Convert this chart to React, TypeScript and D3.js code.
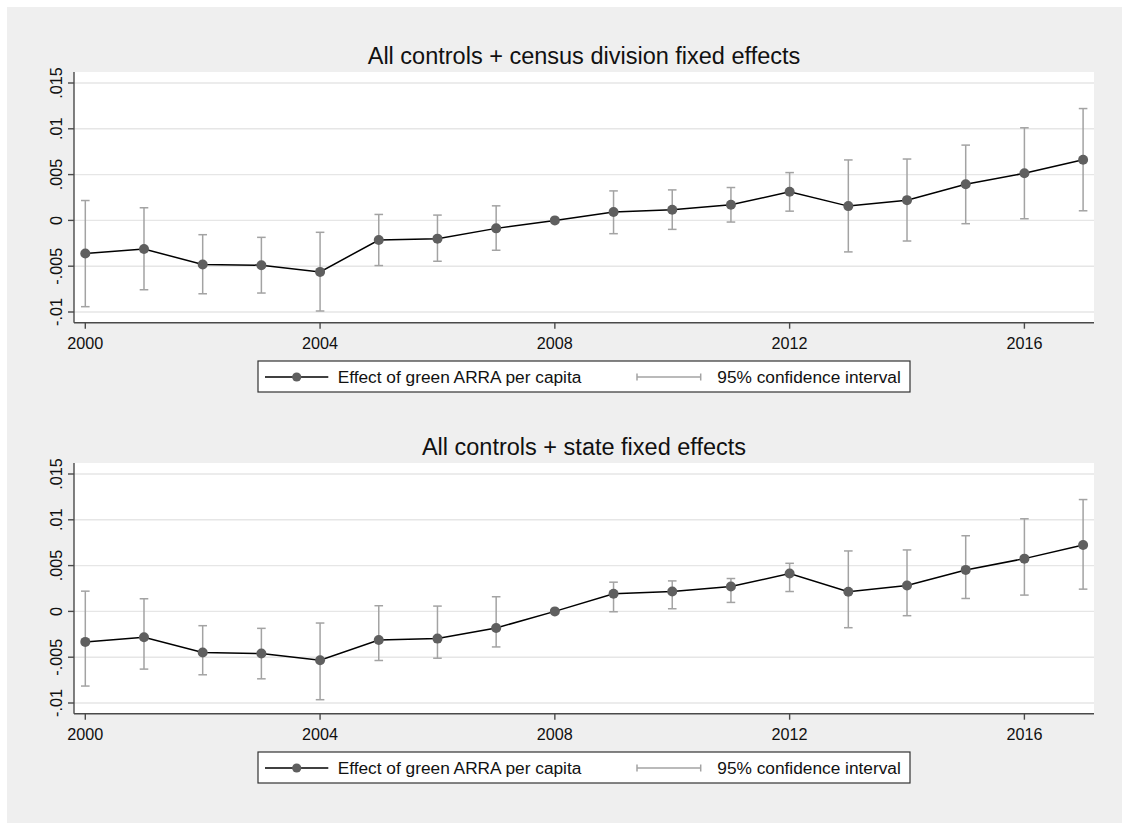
import React from "react";
import * as d3 from "d3";

// Event-study coefficients by year (2008 is the omitted reference year)
const years = [2000, 2001, 2002, 2003, 2004, 2005, 2006, 2007, 2008, 2009, 2010, 2011, 2012, 2013, 2014, 2015, 2016, 2017];

// Panel 1: census division fixed effects
const divisionEst = [-0.00362, -0.00312, -0.00482, -0.00489, -0.00562, -0.00214, -0.00199, -0.00087, 0, 0.00091, 0.00116, 0.0017, 0.00312, 0.00156, 0.00221, 0.00395, 0.00514, 0.00663];
const divisionLo = [-0.00942, -0.00757, -0.00801, -0.00793, -0.00989, -0.00493, -0.00446, -0.00326, null, -0.00145, -0.00098, -0.00018, 0.00101, -0.00344, -0.00225, -0.00036, 0.00018, 0.00105];
const divisionHi = [0.00217, 0.00138, -0.00156, -0.00185, -0.0013, 0.00065, 0.00058, 0.00159, null, 0.00322, 0.00333, 0.00359, 0.00522, 0.0066, 0.0067, 0.00822, 0.01011, 0.01221];

// Panel 2: state fixed effects
const stateEst = [-0.00333, -0.00283, -0.00449, -0.0046, -0.00533, -0.00312, -0.00297, -0.00181, 0, 0.00192, 0.00217, 0.00272, 0.00413, 0.00214, 0.00283, 0.00453, 0.00576, 0.00725];
const stateLo = [-0.00815, -0.0063, -0.00692, -0.00736, -0.00964, -0.00536, -0.00511, -0.00388, null, -0.00004, 0.00029, 0.00098, 0.00217, -0.00178, -0.00047, 0.00141, 0.00178, 0.00243];
const stateHi = [0.00221, 0.00138, -0.00156, -0.00185, -0.00127, 0.00062, 0.00058, 0.0016, null, 0.00319, 0.00333, 0.00359, 0.00525, 0.0066, 0.00671, 0.00826, 0.01011, 0.01221];

const xTicks = [2000, 2004, 2008, 2012, 2016];
const yTicks = [-0.01, -0.005, 0, 0.005, 0.01, 0.015];
const yTickLabels = ["-.01", "-.005", "0", ".005", ".01", ".015"];

const panelTitles = ["All controls + census division fixed effects", "All controls + state fixed effects"];
const legendLabels = ["Effect of green ARRA per capita", "95% confidence interval"];

const FONT = "'Liberation Sans', Arial, Helvetica, sans-serif";
const BG = "#efefef";
const GRID = "#e6e6e6";
const AXIS = "#4a4a4a";
const POINT = "#5f5f5f";
const CI = "#a3a3a3";

const W = 1122;
const H = 823;

type PanelProps = {
  offsetY: number;
  title: string;
  est: number[];
  lo: (number | null)[];
  hi: (number | null)[];
};

function Panel({ offsetY, title, est, lo, hi }: PanelProps) {
  const left = 74;
  const right = 1094;
  const top = 72;
  const bottom = 322.7;

  const x = d3.scaleLinear().domain([2000, 2016]).range([85.3, 1024.4]);
  const y = d3.scaleLinear().domain([-0.01, 0.015]).range([312, 83]);

  const pts = years.map((yr, i) => ({ yr, v: est[i], lo: lo[i], hi: hi[i] }));
  const line = d3
    .line<{ yr: number; v: number }>()
    .x((d) => x(d.yr))
    .y((d) => y(d.v));

  const cap = 4.3;

  // legend geometry
  const lgX0 = 258;
  const lgX1 = 910;
  const lgY0 = 361;
  const lgY1 = 392;
  const lgMid = (lgY0 + lgY1) / 2 + 0.5;

  return (
    <g transform={`translate(0,${offsetY})`}>
      <text
        x={(left + right) / 2}
        y={64}
        textAnchor="middle"
        fontFamily={FONT}
        fontSize={23.5}
        fill="#111"
      >
        {title}
      </text>

      <rect x={left} y={top} width={right - left} height={bottom - top} fill="#fff" />

      {yTicks.map((t) => (
        <line key={`g${t}`} x1={left} x2={right} y1={y(t)} y2={y(t)} stroke={GRID} strokeWidth={1.4} />
      ))}

      {/* axes */}
      <line x1={left} x2={left} y1={top} y2={bottom} stroke={AXIS} strokeWidth={1.4} />
      <line x1={left} x2={right} y1={bottom} y2={bottom} stroke={AXIS} strokeWidth={1.4} />

      {yTicks.map((t, i) => (
        <g key={`yt${t}`}>
          <line x1={left - 6} x2={left} y1={y(t)} y2={y(t)} stroke={AXIS} strokeWidth={1.4} />
          <text
            transform={`translate(61.5,${y(t)}) rotate(-90)`}
            textAnchor="middle"
            fontFamily={FONT}
            fontSize={16.2}
            fill="#111"
          >
            {yTickLabels[i]}
          </text>
        </g>
      ))}

      {xTicks.map((t) => (
        <g key={`xt${t}`}>
          <line x1={x(t)} x2={x(t)} y1={bottom} y2={bottom + 6} stroke={AXIS} strokeWidth={1.4} />
          <text x={x(t)} y={349} textAnchor="middle" fontFamily={FONT} fontSize={16.2} fill="#111">
            {t}
          </text>
        </g>
      ))}

      {/* confidence intervals */}
      {pts
        .filter((p) => p.lo !== null && p.hi !== null)
        .map((p) => (
          <g key={`ci${p.yr}`} stroke={CI} strokeWidth={1.5}>
            <line x1={x(p.yr)} x2={x(p.yr)} y1={y(p.lo as number)} y2={y(p.hi as number)} />
            <line x1={x(p.yr) - cap} x2={x(p.yr) + cap} y1={y(p.lo as number)} y2={y(p.lo as number)} />
            <line x1={x(p.yr) - cap} x2={x(p.yr) + cap} y1={y(p.hi as number)} y2={y(p.hi as number)} />
          </g>
        ))}

      <path d={line(pts) || ""} fill="none" stroke="#000" strokeWidth={1.5} />

      {pts.map((p) => (
        <circle key={`p${p.yr}`} cx={x(p.yr)} cy={y(p.v)} r={5} fill={POINT} />
      ))}

      {/* legend */}
      <rect x={lgX0} y={lgY0} width={lgX1 - lgX0} height={lgY1 - lgY0} fill="#fff" stroke="#333" strokeWidth={1.2} />
      <line x1={265} x2={328.3} y1={lgMid} y2={lgMid} stroke="#000" strokeWidth={1.5} />
      <circle cx={296.7} cy={lgMid} r={4.6} fill={POINT} />
      <text x={337.7} y={lgMid + 6} fontFamily={FONT} fontSize={17.3} fill="#111">
        {legendLabels[0]}
      </text>
      <g stroke={CI} strokeWidth={1.5}>
        <line x1={637} x2={700.7} y1={lgMid} y2={lgMid} />
        <line x1={637} x2={637} y1={lgMid - 3.5} y2={lgMid + 3.5} />
        <line x1={700.7} x2={700.7} y1={lgMid - 3.5} y2={lgMid + 3.5} />
      </g>
      <text x={717.3} y={lgMid + 6} fontFamily={FONT} fontSize={17.3} fill="#111">
        {legendLabels[1]}
      </text>
    </g>
  );
}

export default function App() {
  return (
    <svg
      width={W}
      height={H}
      viewBox={`0 0 ${W} ${H}`}
      style={{ position: "absolute", left: 0, top: 0, display: "block" }}
    >
      <rect x={0} y={0} width={W} height={H} fill="#fff" />
      <rect x={7} y={7} width={W - 7} height={H - 7} fill={BG} />
      <Panel offsetY={0} title={panelTitles[0]} est={divisionEst} lo={divisionLo} hi={divisionHi} />
      <Panel offsetY={391} title={panelTitles[1]} est={stateEst} lo={stateLo} hi={stateHi} />
    </svg>
  );
}
